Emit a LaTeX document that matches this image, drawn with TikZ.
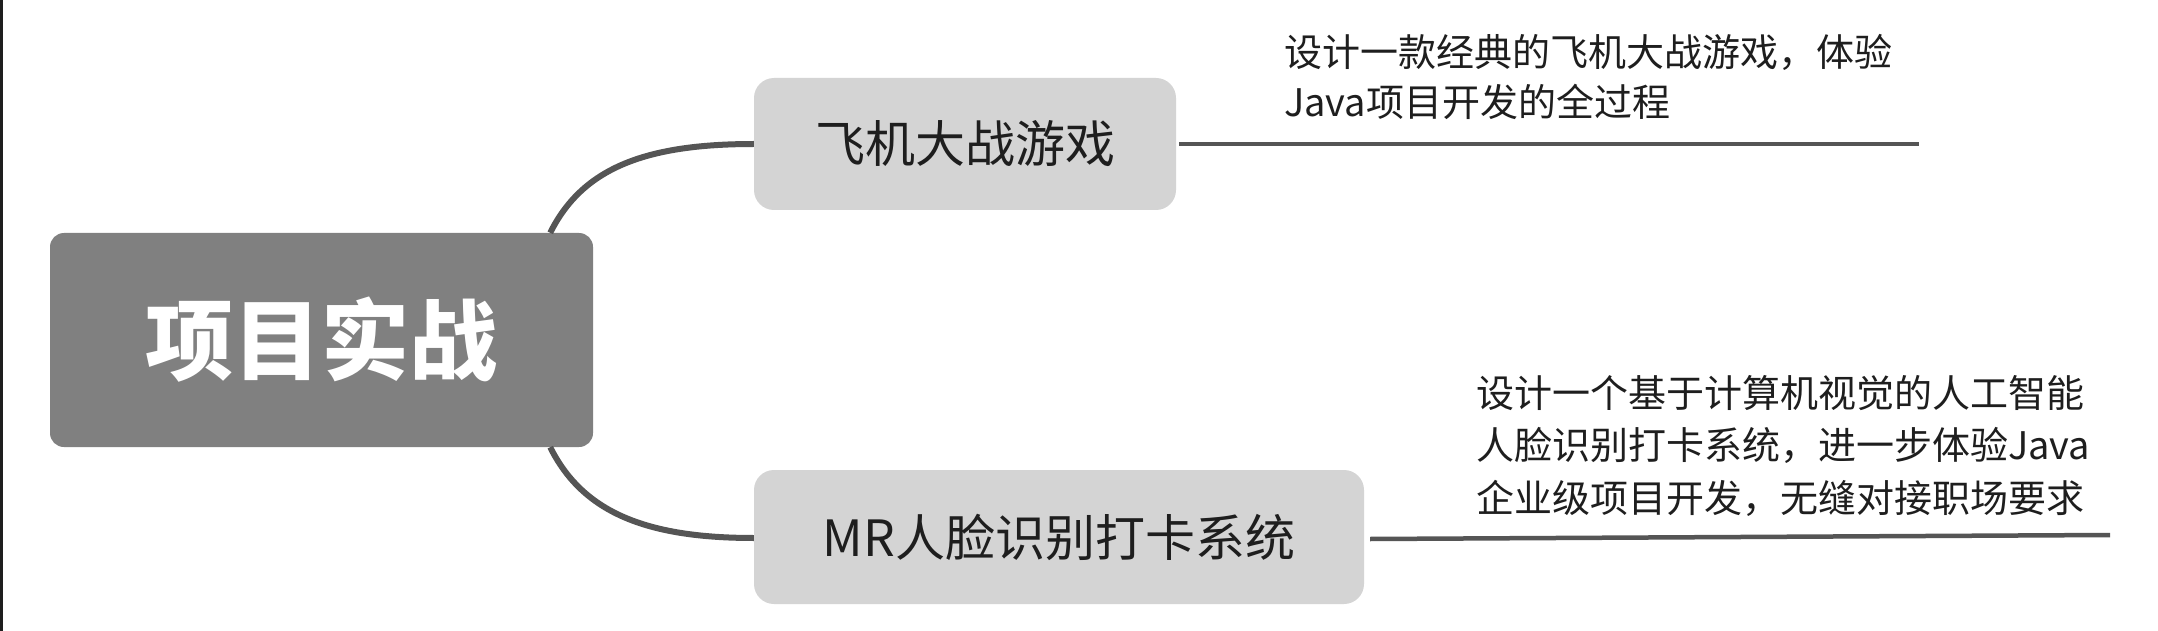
\documentclass[tikz,border=0pt]{standalone}
\usepackage{fontspec}
\newfontfamily\cjk{Noto Sans CJK SC}
\definecolor{rootfill}{HTML}{808080}
\definecolor{childfill}{HTML}{D4D4D4}
\definecolor{linecol}{HTML}{555555}
\definecolor{txt}{HTML}{1E1E1E}
\begin{document}
\begin{tikzpicture}[x=1pt,y=-1pt,
  rootbox/.style={rectangle, rounded corners=14pt, fill=rootfill, minimum width=543pt, minimum height=214pt, inner sep=0pt, text=white, font=\cjk\bfseries\fontsize{88}{100}\selectfont},
  childbox/.style={rectangle, rounded corners=20pt, fill=childfill, inner sep=0pt, text=txt, font=\cjk\fontsize{50}{60}\selectfont},
  desc/.style={inner sep=0pt, align=left, text=txt, anchor=base west},
  conn/.style={draw=linecol, line width=6pt},
  rline/.style={draw=linecol, line width=4.5pt}]
\useasboundingbox (0,0) rectangle (2158,631);
\fill[white] (0,0) rectangle (2158,631);
\draw[line width=2.5pt, draw=txt] (1.25,0) -- (1.25,631);
\node[rootbox] (root) at (321.5,340) {项目实战};
\node[childbox, minimum width=422pt, minimum height=132pt] (c1) at (965,144) {飞机大战游戏};
\node[childbox, minimum width=610pt, minimum height=134pt] (c2) at (1059,537) {MR人脸识别打卡系统};
\draw[conn] ([xshift=-43pt]root.north east) .. controls +(32,-64) and +(-110,0) .. ([yshift=0pt]c1.west);
\draw[conn] ([xshift=-43pt]root.south east) .. controls +(32,64) and +(-110,0) .. ([yshift=-1pt]c2.west);
\coordinate (e1) at (1919,144);
\coordinate (e2) at (2110,535);
\draw[rline] ([xshift=3pt]c1.east) -- (e1);
\draw[rline] ([xshift=6pt,yshift=-2pt]c2.east) -- (e2);
\node[desc, font=\cjk\fontsize{38}{50}\selectfont] (d1) at (1284,117) {设计一款经典的飞机大战游戏，体验\\Java项目开发的全过程};
\node[desc, font=\cjk\fontsize{38}{52.5}\selectfont] (d2) at (1476,512) {设计一个基于计算机视觉的人工智能\\人脸识别打卡系统，进一步体验Java\\企业级项目开发，无缝对接职场要求};
\end{tikzpicture}
\end{document}
